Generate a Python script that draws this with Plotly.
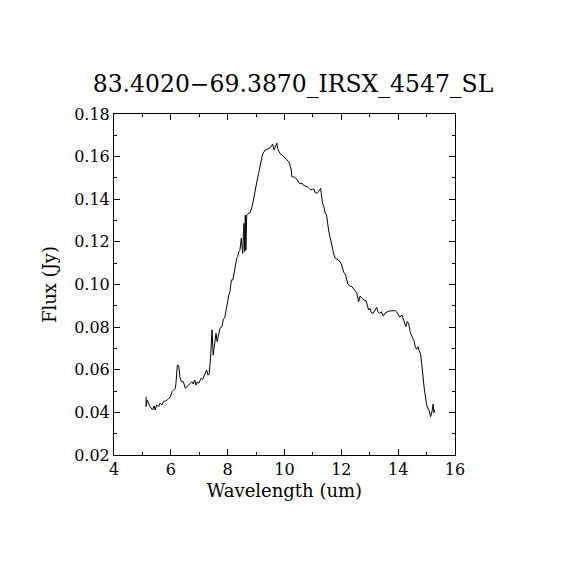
import plotly.graph_objects as go

# Spectrum (wavelength in um, flux in Jy)
wavelength = [
    5.13, 5.13, 5.17, 5.27, 5.36, 5.41, 5.45, 5.50, 5.57, 5.62, 5.69, 5.74,
    5.85, 5.95, 5.99, 6.04, 6.11, 6.16, 6.18, 6.23, 6.28, 6.32, 6.37, 6.44,
    6.51, 6.58, 6.67, 6.74, 6.79, 6.84, 6.89, 6.93, 6.98, 7.03, 7.07, 7.12,
    7.17, 7.21, 7.26, 7.31, 7.35, 7.40, 7.45, 7.49, 7.54, 7.59, 7.63, 7.73,
    7.80, 7.85, 7.90, 7.94, 7.99, 8.04, 8.08, 8.13, 8.18, 8.22, 8.27, 8.32,
    8.36, 8.39, 8.43, 8.48, 8.53, 8.55, 8.57, 8.60, 8.62, 8.64, 8.67, 8.71,
    8.79, 8.86, 8.90, 8.95, 9.00, 9.04, 9.09, 9.14, 9.18, 9.23, 9.32, 9.39,
    9.46, 9.53, 9.58, 9.63, 9.68, 9.73, 9.77, 9.84, 9.91, 9.98, 10.05, 10.15,
    10.19, 10.24, 10.26, 10.36, 10.43, 10.50, 10.54, 10.62, 10.66, 10.73, 10.80, 10.87,
    10.92, 10.99, 11.04, 11.08, 11.15, 11.22, 11.27, 11.29, 11.32, 11.34, 11.39, 11.43,
    11.48, 11.51, 11.55, 11.60, 11.65, 11.69, 11.74, 11.79, 11.86, 11.93, 12.00, 12.05,
    12.09, 12.14, 12.19, 12.23, 12.30, 12.37, 12.44, 12.54, 12.61, 12.66, 12.73, 12.80,
    12.87, 12.91, 12.96, 13.01, 13.05, 13.12, 13.19, 13.24, 13.29, 13.34, 13.41, 13.48,
    13.55, 13.62, 13.71, 13.83, 13.90, 13.95, 14.02, 14.06, 14.13, 14.18, 14.23, 14.27,
    14.32, 14.37, 14.42, 14.46, 14.51, 14.56, 14.60, 14.65, 14.70, 14.74, 14.79, 14.84,
    14.86, 14.91, 14.95, 15.00, 15.05, 15.09, 15.14, 15.19, 15.23, 15.26, 15.28,
]
flux = [
    0.0474, 0.0427, 0.0458, 0.0427, 0.0411, 0.0430, 0.0411, 0.0435, 0.0427, 0.0443, 0.0435, 0.0450,
    0.0455, 0.0466, 0.0474, 0.0497, 0.0505, 0.0513, 0.0536, 0.0622, 0.0618, 0.0567, 0.0544, 0.0544,
    0.0513, 0.0524, 0.0536, 0.0544, 0.0533, 0.0552, 0.0528, 0.0544, 0.0536, 0.0552, 0.0560, 0.0555,
    0.0571, 0.0583, 0.0599, 0.0575, 0.0583, 0.0661, 0.0787, 0.0669, 0.0716, 0.0771, 0.0732, 0.0795,
    0.0802, 0.0837, 0.0846, 0.0880, 0.0912, 0.0951, 0.0966, 0.1021, 0.1021, 0.1053, 0.1100, 0.1123,
    0.1131, 0.1154, 0.1159, 0.1217, 0.1146, 0.1264, 0.1287, 0.1154, 0.1326, 0.1162, 0.1326, 0.1331,
    0.1337, 0.1365, 0.1397, 0.1428, 0.1459, 0.1491, 0.1522, 0.1561, 0.1592, 0.1612, 0.1631, 0.1634,
    0.1639, 0.1647, 0.1659, 0.1631, 0.1644, 0.1663, 0.1634, 0.1615, 0.1608, 0.1600, 0.1588, 0.1576,
    0.1561, 0.1537, 0.1506, 0.1503, 0.1494, 0.1483, 0.1472, 0.1475, 0.1466, 0.1462, 0.1459, 0.1451,
    0.1444, 0.1447, 0.1447, 0.1431, 0.1428, 0.1440, 0.1451, 0.1431, 0.1404, 0.1381, 0.1362, 0.1337,
    0.1326, 0.1287, 0.1256, 0.1224, 0.1193, 0.1162, 0.1139, 0.1123, 0.1118, 0.1112, 0.1096, 0.1076,
    0.1055, 0.1049, 0.1021, 0.1002, 0.0993, 0.0990, 0.0978, 0.0962, 0.0919, 0.0946, 0.0935, 0.0927,
    0.0924, 0.0899, 0.0880, 0.0888, 0.0868, 0.0865, 0.0884, 0.0893, 0.0872, 0.0865, 0.0872, 0.0852,
    0.0868, 0.0872, 0.0876, 0.0877, 0.0877, 0.0871, 0.0852, 0.0846, 0.0857, 0.0837, 0.0818, 0.0802,
    0.0826, 0.0818, 0.0779, 0.0763, 0.0748, 0.0736, 0.0708, 0.0696, 0.0708, 0.0689, 0.0674, 0.0614,
    0.0575, 0.0521, 0.0482, 0.0435, 0.0419, 0.0408, 0.0380, 0.0403, 0.0439, 0.0398, 0.0411,
]

title = "83.4020\u221269.3870_IRSX_4547_SL"
font = "DejaVu Serif"

fig = go.Figure(go.Scatter(x=wavelength, y=flux, mode="lines",
                           line=dict(color="black", width=1)))

axis_style = dict(
    showline=True, linecolor="black", linewidth=1, mirror="ticks",
    ticks="inside", ticklen=6, tickcolor="black", tickwidth=1,
    showgrid=False, zeroline=False,
    tickfont=dict(family=font, size=16, color="black"),
)

fig.update_xaxes(range=[4, 16], dtick=2, tick0=4,
                 minor=dict(ticks="inside", ticklen=3, dtick=1, tickcolor="black"),
                 title=dict(text="Wavelength (um)", font=dict(family=font, size=18, color="black"),
                            standoff=6),
                 **axis_style)
fig.update_yaxes(range=[0.02, 0.18], dtick=0.02, tick0=0.02, tickformat=".2f",
                 minor=dict(ticks="inside", ticklen=3, dtick=0.01, tickcolor="black"),
                 title=dict(text="Flux (Jy)", font=dict(family=font, size=18, color="black"),
                            standoff=12),
                 **axis_style)

fig.update_layout(
    width=570, height=570,
    margin=dict(l=106, r=123, t=106, b=123),
    paper_bgcolor="white", plot_bgcolor="white",
    showlegend=False,
    title=dict(text=title, x=0.5, xanchor="center", y=0.867, yanchor="middle",
               font=dict(family=font, size=23.5, color="black")),
)

fig.write_html("out.html")
